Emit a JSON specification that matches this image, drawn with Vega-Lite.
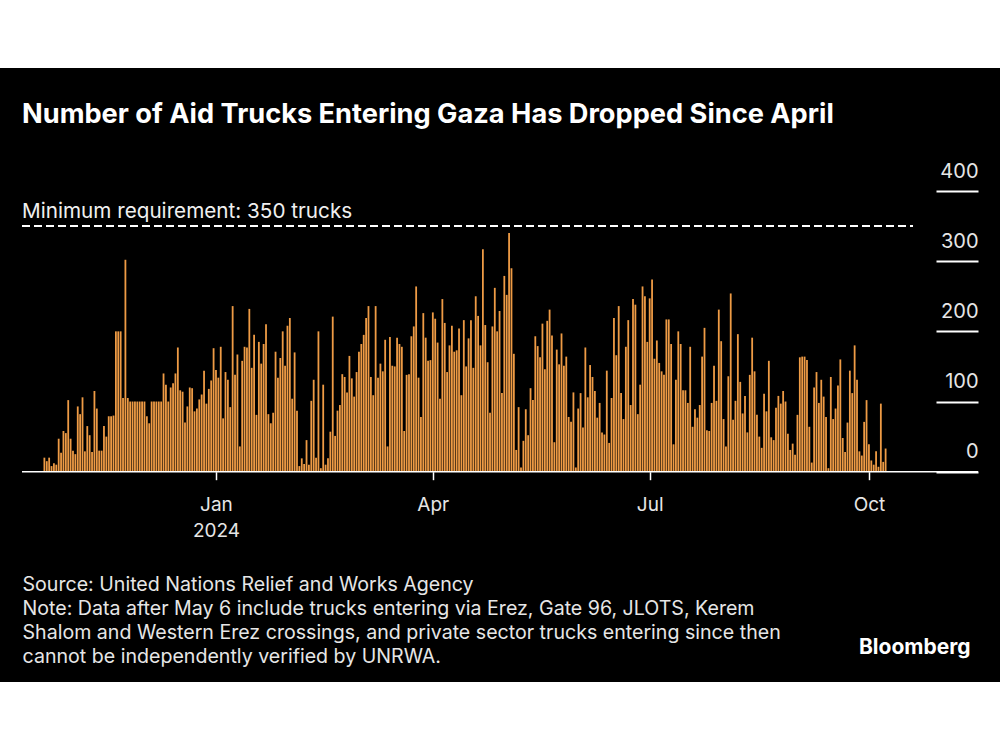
{
  "$schema": "https://vega.github.io/schema/vega-lite/v6.json",
  "width": 1000,
  "height": 614,
  "autosize": {"type": "none"},
  "padding": {"top": 68, "bottom": 68, "left": 0, "right": 0},
  "background": "white",
  "config": {
    "view": {"fill": "black", "stroke": null},
    "font": "Inter",
    "axis": {"labelFont": "Inter", "titleFont": "Inter"}
  },
  "title": {
    "text": "Number of Aid Trucks Entering Gaza Has Dropped Since April",
    "anchor": "start",
    "frame": "group",
    "orient": "top",
    "offset": -82,
    "dx": 22,
    "baseline": "alphabetic",
    "fontSize": 27.2,
    "fontWeight": "bold",
    "color": "#ffffff",
    "font": "Inter"
  },
  "datasets": {
    "trucks": [
      {"date": "2023-10-21", "trucks": 20}, {"date": "2023-10-22", "trucks": 15}, {"date": "2023-10-23", "trucks": 20}, {"date": "2023-10-24", "trucks": 8}, {"date": "2023-10-25", "trucks": 12}, {"date": "2023-10-26", "trucks": 10}, {"date": "2023-10-27", "trucks": 47}, {"date": "2023-10-28", "trucks": 27}, {"date": "2023-10-29", "trucks": 58}, {"date": "2023-10-30", "trucks": 55}, {"date": "2023-10-31", "trucks": 102},
      {"date": "2023-11-01", "trucks": 47}, {"date": "2023-11-02", "trucks": 30}, {"date": "2023-11-03", "trucks": 25}, {"date": "2023-11-04", "trucks": 93}, {"date": "2023-11-05", "trucks": 82}, {"date": "2023-11-06", "trucks": 106}, {"date": "2023-11-07", "trucks": 29}, {"date": "2023-11-08", "trucks": 65}, {"date": "2023-11-09", "trucks": 52}, {"date": "2023-11-10", "trucks": 28},
      {"date": "2023-11-11", "trucks": 115}, {"date": "2023-11-12", "trucks": 90}, {"date": "2023-11-13", "trucks": 30}, {"date": "2023-11-14", "trucks": 30}, {"date": "2023-11-15", "trucks": 65}, {"date": "2023-11-16", "trucks": 50}, {"date": "2023-11-17", "trucks": 79}, {"date": "2023-11-18", "trucks": 79}, {"date": "2023-11-19", "trucks": 80}, {"date": "2023-11-20", "trucks": 200},
      {"date": "2023-11-21", "trucks": 200}, {"date": "2023-11-22", "trucks": 200}, {"date": "2023-11-23", "trucks": 105}, {"date": "2023-11-24", "trucks": 302}, {"date": "2023-11-25", "trucks": 105}, {"date": "2023-11-26", "trucks": 100}, {"date": "2023-11-27", "trucks": 100}, {"date": "2023-11-28", "trucks": 100}, {"date": "2023-11-29", "trucks": 100}, {"date": "2023-11-30", "trucks": 100},
      {"date": "2023-12-01", "trucks": 100}, {"date": "2023-12-02", "trucks": 100}, {"date": "2023-12-03", "trucks": 79}, {"date": "2023-12-04", "trucks": 69}, {"date": "2023-12-05", "trucks": 100}, {"date": "2023-12-06", "trucks": 100}, {"date": "2023-12-07", "trucks": 100}, {"date": "2023-12-08", "trucks": 100}, {"date": "2023-12-09", "trucks": 100}, {"date": "2023-12-10", "trucks": 140},
      {"date": "2023-12-11", "trucks": 124}, {"date": "2023-12-12", "trucks": 100}, {"date": "2023-12-13", "trucks": 120}, {"date": "2023-12-14", "trucks": 126}, {"date": "2023-12-15", "trucks": 140}, {"date": "2023-12-16", "trucks": 177}, {"date": "2023-12-17", "trucks": 116}, {"date": "2023-12-18", "trucks": 114}, {"date": "2023-12-19", "trucks": 70}, {"date": "2023-12-20", "trucks": 93},
      {"date": "2023-12-21", "trucks": 120}, {"date": "2023-12-22", "trucks": 119}, {"date": "2023-12-23", "trucks": 86}, {"date": "2023-12-24", "trucks": 90}, {"date": "2023-12-25", "trucks": 103}, {"date": "2023-12-26", "trucks": 110}, {"date": "2023-12-27", "trucks": 144}, {"date": "2023-12-28", "trucks": 97}, {"date": "2023-12-29", "trucks": 118}, {"date": "2023-12-30", "trucks": 130}, {"date": "2023-12-31", "trucks": 176},
      {"date": "2024-01-01", "trucks": 145}, {"date": "2024-01-02", "trucks": 134}, {"date": "2024-01-03", "trucks": 178}, {"date": "2024-01-04", "trucks": 76}, {"date": "2024-01-05", "trucks": 142}, {"date": "2024-01-06", "trucks": 131}, {"date": "2024-01-07", "trucks": 92}, {"date": "2024-01-08", "trucks": 236}, {"date": "2024-01-09", "trucks": 138}, {"date": "2024-01-10", "trucks": 167},
      {"date": "2024-01-11", "trucks": 36}, {"date": "2024-01-12", "trucks": 158}, {"date": "2024-01-13", "trucks": 178}, {"date": "2024-01-14", "trucks": 177}, {"date": "2024-01-15", "trucks": 232}, {"date": "2024-01-16", "trucks": 148}, {"date": "2024-01-17", "trucks": 195}, {"date": "2024-01-18", "trucks": 81}, {"date": "2024-01-19", "trucks": 185}, {"date": "2024-01-20", "trucks": 154},
      {"date": "2024-01-21", "trucks": 182}, {"date": "2024-01-22", "trucks": 210}, {"date": "2024-01-23", "trucks": 82}, {"date": "2024-01-24", "trucks": 69}, {"date": "2024-01-25", "trucks": 84}, {"date": "2024-01-26", "trucks": 171}, {"date": "2024-01-27", "trucks": 134}, {"date": "2024-01-28", "trucks": 162}, {"date": "2024-01-29", "trucks": 200}, {"date": "2024-01-30", "trucks": 151}, {"date": "2024-01-31", "trucks": 208},
      {"date": "2024-02-01", "trucks": 219}, {"date": "2024-02-02", "trucks": 104}, {"date": "2024-02-03", "trucks": 170}, {"date": "2024-02-04", "trucks": 87}, {"date": "2024-02-05", "trucks": 8}, {"date": "2024-02-06", "trucks": 19}, {"date": "2024-02-07", "trucks": 11}, {"date": "2024-02-08", "trucks": 45}, {"date": "2024-02-09", "trucks": 10}, {"date": "2024-02-10", "trucks": 101},
      {"date": "2024-02-11", "trucks": 131}, {"date": "2024-02-12", "trucks": 20}, {"date": "2024-02-13", "trucks": 200}, {"date": "2024-02-14", "trucks": 5}, {"date": "2024-02-15", "trucks": 124}, {"date": "2024-02-16", "trucks": 10}, {"date": "2024-02-17", "trucks": 19}, {"date": "2024-02-18", "trucks": 57}, {"date": "2024-02-19", "trucks": 221}, {"date": "2024-02-20", "trucks": 51},
      {"date": "2024-02-21", "trucks": 87}, {"date": "2024-02-22", "trucks": 95}, {"date": "2024-02-23", "trucks": 139}, {"date": "2024-02-24", "trucks": 135}, {"date": "2024-02-25", "trucks": 113}, {"date": "2024-02-26", "trucks": 165}, {"date": "2024-02-27", "trucks": 133}, {"date": "2024-02-28", "trucks": 107}, {"date": "2024-02-29", "trucks": 142},
      {"date": "2024-03-01", "trucks": 171}, {"date": "2024-03-02", "trucks": 182}, {"date": "2024-03-03", "trucks": 195}, {"date": "2024-03-04", "trucks": 219}, {"date": "2024-03-05", "trucks": 236}, {"date": "2024-03-06", "trucks": 135}, {"date": "2024-03-07", "trucks": 109}, {"date": "2024-03-08", "trucks": 236}, {"date": "2024-03-09", "trucks": 134}, {"date": "2024-03-10", "trucks": 154},
      {"date": "2024-03-11", "trucks": 143}, {"date": "2024-03-12", "trucks": 188}, {"date": "2024-03-13", "trucks": 36}, {"date": "2024-03-14", "trucks": 192}, {"date": "2024-03-15", "trucks": 151}, {"date": "2024-03-16", "trucks": 150}, {"date": "2024-03-17", "trucks": 191}, {"date": "2024-03-18", "trucks": 182}, {"date": "2024-03-19", "trucks": 178}, {"date": "2024-03-20", "trucks": 58},
      {"date": "2024-03-21", "trucks": 138}, {"date": "2024-03-22", "trucks": 139}, {"date": "2024-03-23", "trucks": 193}, {"date": "2024-03-24", "trucks": 207}, {"date": "2024-03-25", "trucks": 264}, {"date": "2024-03-26", "trucks": 134}, {"date": "2024-03-27", "trucks": 78}, {"date": "2024-03-28", "trucks": 226}, {"date": "2024-03-29", "trucks": 191}, {"date": "2024-03-30", "trucks": 158}, {"date": "2024-03-31", "trucks": 159},
      {"date": "2024-04-01", "trucks": 227}, {"date": "2024-04-02", "trucks": 218}, {"date": "2024-04-03", "trucks": 184}, {"date": "2024-04-04", "trucks": 104}, {"date": "2024-04-05", "trucks": 246}, {"date": "2024-04-06", "trucks": 212}, {"date": "2024-04-07", "trucks": 142}, {"date": "2024-04-08", "trucks": 180}, {"date": "2024-04-09", "trucks": 208}, {"date": "2024-04-10", "trucks": 171},
      {"date": "2024-04-11", "trucks": 173}, {"date": "2024-04-12", "trucks": 204}, {"date": "2024-04-13", "trucks": 109}, {"date": "2024-04-14", "trucks": 216}, {"date": "2024-04-15", "trucks": 150}, {"date": "2024-04-16", "trucks": 190}, {"date": "2024-04-17", "trucks": 216}, {"date": "2024-04-18", "trucks": 148}, {"date": "2024-04-19", "trucks": 250}, {"date": "2024-04-20", "trucks": 222},
      {"date": "2024-04-21", "trucks": 180}, {"date": "2024-04-22", "trucks": 317}, {"date": "2024-04-23", "trucks": 209}, {"date": "2024-04-24", "trucks": 156}, {"date": "2024-04-25", "trucks": 84}, {"date": "2024-04-26", "trucks": 207}, {"date": "2024-04-27", "trucks": 262}, {"date": "2024-04-28", "trucks": 200}, {"date": "2024-04-29", "trucks": 229}, {"date": "2024-04-30", "trucks": 112},
      {"date": "2024-05-01", "trucks": 279}, {"date": "2024-05-02", "trucks": 252}, {"date": "2024-05-03", "trucks": 340}, {"date": "2024-05-04", "trucks": 290}, {"date": "2024-05-05", "trucks": 168}, {"date": "2024-05-06", "trucks": 31}, {"date": "2024-05-07", "trucks": 92}, {"date": "2024-05-08", "trucks": 6}, {"date": "2024-05-09", "trucks": 44}, {"date": "2024-05-10", "trucks": 89},
      {"date": "2024-05-11", "trucks": 52}, {"date": "2024-05-12", "trucks": 119}, {"date": "2024-05-13", "trucks": 102}, {"date": "2024-05-14", "trucks": 193}, {"date": "2024-05-15", "trucks": 179}, {"date": "2024-05-16", "trucks": 163}, {"date": "2024-05-17", "trucks": 211}, {"date": "2024-05-18", "trucks": 146}, {"date": "2024-05-19", "trucks": 215}, {"date": "2024-05-20", "trucks": 231},
      {"date": "2024-05-21", "trucks": 194}, {"date": "2024-05-22", "trucks": 42}, {"date": "2024-05-23", "trucks": 174}, {"date": "2024-05-24", "trucks": 153}, {"date": "2024-05-25", "trucks": 197}, {"date": "2024-05-26", "trucks": 151}, {"date": "2024-05-27", "trucks": 164}, {"date": "2024-05-28", "trucks": 78}, {"date": "2024-05-29", "trucks": 71}, {"date": "2024-05-30", "trucks": 113}, {"date": "2024-05-31", "trucks": 6},
      {"date": "2024-06-01", "trucks": 90}, {"date": "2024-06-02", "trucks": 112}, {"date": "2024-06-03", "trucks": 63}, {"date": "2024-06-04", "trucks": 177}, {"date": "2024-06-05", "trucks": 106}, {"date": "2024-06-06", "trucks": 152}, {"date": "2024-06-07", "trucks": 135}, {"date": "2024-06-08", "trucks": 115}, {"date": "2024-06-09", "trucks": 77}, {"date": "2024-06-10", "trucks": 98},
      {"date": "2024-06-11", "trucks": 56}, {"date": "2024-06-12", "trucks": 53}, {"date": "2024-06-13", "trucks": 144}, {"date": "2024-06-14", "trucks": 41}, {"date": "2024-06-15", "trucks": 105}, {"date": "2024-06-16", "trucks": 219}, {"date": "2024-06-17", "trucks": 166}, {"date": "2024-06-18", "trucks": 236}, {"date": "2024-06-19", "trucks": 112}, {"date": "2024-06-20", "trucks": 75},
      {"date": "2024-06-21", "trucks": 178}, {"date": "2024-06-22", "trucks": 216}, {"date": "2024-06-23", "trucks": 95}, {"date": "2024-06-24", "trucks": 246}, {"date": "2024-06-25", "trucks": 238}, {"date": "2024-06-26", "trucks": 82}, {"date": "2024-06-27", "trucks": 124}, {"date": "2024-06-28", "trucks": 264}, {"date": "2024-06-29", "trucks": 250}, {"date": "2024-06-30", "trucks": 185},
      {"date": "2024-07-01", "trucks": 247}, {"date": "2024-07-02", "trucks": 274}, {"date": "2024-07-03", "trucks": 161}, {"date": "2024-07-04", "trucks": 187}, {"date": "2024-07-05", "trucks": 155}, {"date": "2024-07-06", "trucks": 143}, {"date": "2024-07-07", "trucks": 138}, {"date": "2024-07-08", "trucks": 217}, {"date": "2024-07-09", "trucks": 217}, {"date": "2024-07-10", "trucks": 182},
      {"date": "2024-07-11", "trucks": 39}, {"date": "2024-07-12", "trucks": 131}, {"date": "2024-07-13", "trucks": 200}, {"date": "2024-07-14", "trucks": 182}, {"date": "2024-07-15", "trucks": 116}, {"date": "2024-07-16", "trucks": 116}, {"date": "2024-07-17", "trucks": 98}, {"date": "2024-07-18", "trucks": 178}, {"date": "2024-07-19", "trucks": 64}, {"date": "2024-07-20", "trucks": 89},
      {"date": "2024-07-21", "trucks": 77}, {"date": "2024-07-22", "trucks": 95}, {"date": "2024-07-23", "trucks": 164}, {"date": "2024-07-24", "trucks": 205}, {"date": "2024-07-25", "trucks": 59}, {"date": "2024-07-26", "trucks": 58}, {"date": "2024-07-27", "trucks": 98}, {"date": "2024-07-28", "trucks": 151}, {"date": "2024-07-29", "trucks": 101}, {"date": "2024-07-30", "trucks": 231}, {"date": "2024-07-31", "trucks": 186},
      {"date": "2024-08-01", "trucks": 75}, {"date": "2024-08-02", "trucks": 36}, {"date": "2024-08-03", "trucks": 136}, {"date": "2024-08-04", "trucks": 254}, {"date": "2024-08-05", "trucks": 74}, {"date": "2024-08-06", "trucks": 101}, {"date": "2024-08-07", "trucks": 196}, {"date": "2024-08-08", "trucks": 128}, {"date": "2024-08-09", "trucks": 83}, {"date": "2024-08-10", "trucks": 108},
      {"date": "2024-08-11", "trucks": 56}, {"date": "2024-08-12", "trucks": 138}, {"date": "2024-08-13", "trucks": 191}, {"date": "2024-08-14", "trucks": 143}, {"date": "2024-08-15", "trucks": 81}, {"date": "2024-08-16", "trucks": 50}, {"date": "2024-08-17", "trucks": 34}, {"date": "2024-08-18", "trucks": 111}, {"date": "2024-08-19", "trucks": 86}, {"date": "2024-08-20", "trucks": 158},
      {"date": "2024-08-21", "trucks": 49}, {"date": "2024-08-22", "trucks": 45}, {"date": "2024-08-23", "trucks": 91}, {"date": "2024-08-24", "trucks": 108}, {"date": "2024-08-25", "trucks": 97}, {"date": "2024-08-26", "trucks": 115}, {"date": "2024-08-27", "trucks": 100}, {"date": "2024-08-28", "trucks": 54}, {"date": "2024-08-29", "trucks": 31}, {"date": "2024-08-30", "trucks": 40}, {"date": "2024-08-31", "trucks": 24},
      {"date": "2024-09-01", "trucks": 81}, {"date": "2024-09-02", "trucks": 163}, {"date": "2024-09-03", "trucks": 164}, {"date": "2024-09-04", "trucks": 164}, {"date": "2024-09-05", "trucks": 159}, {"date": "2024-09-06", "trucks": 64}, {"date": "2024-09-07", "trucks": 13}, {"date": "2024-09-08", "trucks": 120}, {"date": "2024-09-09", "trucks": 142}, {"date": "2024-09-10", "trucks": 98},
      {"date": "2024-09-11", "trucks": 131}, {"date": "2024-09-12", "trucks": 107}, {"date": "2024-09-13", "trucks": 78}, {"date": "2024-09-14", "trucks": 5}, {"date": "2024-09-15", "trucks": 135}, {"date": "2024-09-16", "trucks": 75}, {"date": "2024-09-17", "trucks": 90}, {"date": "2024-09-18", "trucks": 123}, {"date": "2024-09-19", "trucks": 160}, {"date": "2024-09-20", "trucks": 48},
      {"date": "2024-09-21", "trucks": 28}, {"date": "2024-09-22", "trucks": 70}, {"date": "2024-09-23", "trucks": 144}, {"date": "2024-09-24", "trucks": 112}, {"date": "2024-09-25", "trucks": 180}, {"date": "2024-09-26", "trucks": 131}, {"date": "2024-09-27", "trucks": 29}, {"date": "2024-09-28", "trucks": 23}, {"date": "2024-09-29", "trucks": 71}, {"date": "2024-09-30", "trucks": 102},
      {"date": "2024-10-01", "trucks": 39}, {"date": "2024-10-02", "trucks": 16}, {"date": "2024-10-03", "trucks": 10}, {"date": "2024-10-04", "trucks": 29}, {"date": "2024-10-05", "trucks": 7}, {"date": "2024-10-06", "trucks": 97}, {"date": "2024-10-07", "trucks": 14}, {"date": "2024-10-08", "trucks": 33}
    ],
    "threshold": [{"label": "Minimum requirement: 350 trucks", "value": 350}],
    "baseline": [{"value": 0}]
  },
  "layer": [
    {
      "data": {"name": "trucks"},
      "mark": {"type": "bar", "width": 1.8, "color": "#EE9B45"},
      "encoding": {
        "x": {
          "field": "date",
          "type": "temporal",
          "scale": {"type": "utc", "padding": 0, "domain": [{"year": 2023, "month": 10, "date": 2, "hours": 9, "utc": true}, {"year": 2024, "month": 11, "date": 25, "utc": true}]},
          "axis": {
            "orient": "bottom",
            "offset": -210.3,
            "domain": false,
            "grid": false,
            "values": [{"year": 2024, "month": 1, "date": 1, "utc": true}, {"year": 2024, "month": 4, "date": 1, "utc": true}, {"year": 2024, "month": 7, "date": 1, "utc": true}, {"year": 2024, "month": 10, "date": 1, "utc": true}],
            "labelExpr": "utcmonth(datum.value) == 0 ? [utcFormat(datum.value, '%b'), utcFormat(datum.value, '%Y')] : utcFormat(datum.value, '%b')",
            "ticks": true,
            "tickSize": 8,
            "tickWidth": 1.5,
            "tickColor": "#ffffff",
            "labelColor": "#e6e6e6",
            "labelFontSize": 19,
            "labelPadding": 31,
            "labelBaseline": "alphabetic",
            "labelLineHeight": 26,
            "labelAlign": "center",
            "title": ["Source: United Nations Relief and Works Agency", "Note: Data after May 6 include trucks entering via Erez, Gate 96, JLOTS, Kerem", "Shalom and Western Erez crossings, and private sector trucks entering since then", "cannot be independently verified by UNRWA."],
            "titleX": 22,
            "titleY": 118.3,
            "titleAnchor": "start",
            "titleAlign": "left",
            "titleBaseline": "alphabetic",
            "titleAngle": 0,
            "titleLineHeight": 24,
            "titleFontSize": 19.6,
            "titleFontWeight": "normal",
            "titleColor": "#e6e6e6"
          }
        },
        "y": {
          "field": "trucks",
          "type": "quantitative",
          "scale": {"domain": [-299.7, 575.3], "nice": false, "zero": false, "padding": 0},
          "axis": {
            "orient": "right",
            "offset": -64,
            "domain": false,
            "grid": false,
            "values": [0, 100, 200, 300, 400],
            "tickSize": 42,
            "tickWidth": 2,
            "tickColor": "#ffffff",
            "labelAlign": "right",
            "labelPadding": 0,
            "labelBaseline": "alphabetic",
            "labelOffset": -14,
            "labelFontSize": 20,
            "labelColor": "#e6e6e6",
            "title": "Bloomberg",
            "titleAngle": 0,
            "titleX": 34,
            "titleY": 585,
            "titleAlign": "right",
            "titleBaseline": "alphabetic",
            "titleFontSize": 21,
            "titleFontWeight": "bold",
            "titleColor": "#ffffff"
          }
        },
        "y2": {"datum": 0}
      }
    },
    {
      "data": {"name": "threshold"},
      "mark": {"type": "rule", "strokeDash": [8, 4], "strokeWidth": 2, "color": "#ffffff"},
      "encoding": {
        "y": {"field": "value", "type": "quantitative", "scale": {"domain": [-299.7, 575.3], "nice": false, "zero": false, "padding": 0}},
        "x": {"datum": {"year": 2023, "month": 10, "date": 11, "hours": 14, "minutes": 30, "utc": true}, "type": "temporal", "scale": {"type": "utc", "padding": 0, "domain": [{"year": 2023, "month": 10, "date": 2, "hours": 9, "utc": true}, {"year": 2024, "month": 11, "date": 25, "utc": true}]}},
        "x2": {"datum": {"year": 2024, "month": 10, "date": 19, "hours": 12, "utc": true}}
      }
    },
    {
      "data": {"name": "threshold"},
      "mark": {"type": "text", "align": "left", "baseline": "alphabetic", "dy": -8, "fontSize": 20.7, "color": "#f0f0f0", "font": "Inter"},
      "encoding": {
        "y": {"field": "value", "type": "quantitative", "scale": {"domain": [-299.7, 575.3], "nice": false, "zero": false, "padding": 0}},
        "x": {"datum": {"year": 2023, "month": 10, "date": 11, "hours": 14, "minutes": 30, "utc": true}, "type": "temporal", "scale": {"type": "utc", "padding": 0, "domain": [{"year": 2023, "month": 10, "date": 2, "hours": 9, "utc": true}, {"year": 2024, "month": 11, "date": 25, "utc": true}]}},
        "text": {"field": "label"}
      }
    },
    {
      "data": {"name": "baseline"},
      "mark": {"type": "rule", "strokeWidth": 1.5, "color": "#ffffff"},
      "encoding": {
        "y": {"field": "value", "type": "quantitative", "scale": {"domain": [-299.7, 575.3], "nice": false, "zero": false, "padding": 0}},
        "x": {"datum": {"year": 2023, "month": 10, "date": 11, "hours": 14, "minutes": 30, "utc": true}, "type": "temporal", "scale": {"type": "utc", "padding": 0, "domain": [{"year": 2023, "month": 10, "date": 2, "hours": 9, "utc": true}, {"year": 2024, "month": 11, "date": 25, "utc": true}]}},
        "x2": {"datum": {"year": 2024, "month": 11, "date": 15, "hours": 19, "utc": true}}
      }
    }
  ]
}
